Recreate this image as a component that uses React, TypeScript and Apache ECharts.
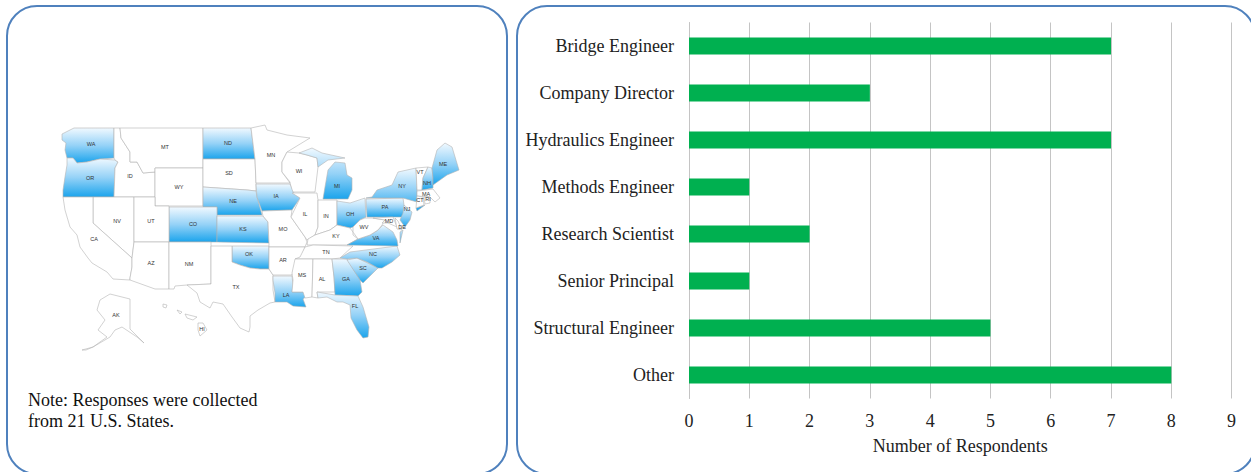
import React, { useEffect, useRef } from "react";
import * as echarts from "echarts";

const categories = ["Bridge Engineer", "Company Director", "Hydraulics Engineer", "Methods Engineer", "Research Scientist", "Senior Principal", "Structural Engineer", "Other"];
const respondents = [7, 3, 7, 1, 2, 1, 5, 8];
const axisTitle = "Number of Respondents";
const noteLines = ["Note: Responses were collected", "from 21 U.S. States."];
const respondingStates = ["WA", "OR", "ND", "NE", "CO", "KS", "IA", "OK", "MI", "OH", "NY", "PA", "NJ", "NH", "ME", "VA", "NC", "SC", "GA", "FL", "LA"];

type Pt = [number, number];
const outlines: Record<string, Pt[][]> = {
  WA: [[[62,134],[74,128],[114,128],[114,158],[100,159],[87,162],[77,163],[73,158],[67,158],[65,150],[66,143],[62,140]]],
  OR: [[[67,158],[73,158],[77,163],[87,162],[100,159],[115,160],[118,162],[115,168],[114,197],[63,197],[63,190],[65,177],[67,165]]],
  ID: [[[114,128],[120,128],[121,138],[130,152],[130,162],[137,162],[143,173],[155,172],[155,197],[114,197],[115,168],[118,162],[115,160],[114,158]]],
  MT: [[[120,128],[203,128],[203,168],[155,168],[155,172],[143,173],[137,162],[130,162],[130,152],[121,138]]],
  WY: [[[155,168],[203,168],[203,206],[155,206]]],
  ND: [[[203,128],[251,128],[255,159],[203,159]]],
  SD: [[[203,159],[255,159],[256,183],[256,191],[247,190],[203,187]]],
  NE: [[[203,187],[247,190],[256,191],[257,197],[262,215],[217,215],[217,207],[203,207]]],
  CO: [[[169,207],[217,207],[217,242],[169,242]]],
  KS: [[[217,216],[263,216],[268,222],[269,243],[217,242]]],
  NV: [[[93,197],[134,197],[134,242],[132,258],[93,223]]],
  CA: [[[63,197],[93,197],[93,223],[132,258],[132,267],[130,278],[130,280],[113,279],[107,272],[92,263],[88,258],[80,247],[77,235],[70,227],[65,210]]],
  UT: [[[134,197],[155,197],[155,206],[169,206],[169,242],[134,242]]],
  AZ: [[[134,242],[169,242],[169,289],[155,289],[130,280],[130,278],[132,267],[132,258]]],
  NM: [[[169,242],[211,242],[211,284],[187,285],[175,286],[174,289],[169,289]]],
  OK: [[[232,246],[269,246],[269,269],[260,269],[250,268],[240,265],[232,262]]],
  TX: [[[211,246],[232,246],[232,262],[240,265],[250,268],[260,269],[269,269],[273,275],[273,290],[275,302],[270,303],[258,310],[250,316],[250,327],[249,332],[240,328],[232,317],[223,304],[213,302],[210,308],[200,302],[197,293],[187,285],[211,284]]],
  AK: [[[100,300],[110,294],[130,299],[130,329],[144,343],[137,337],[122,327],[115,330],[110,337],[93,347],[107,337],[98,330],[105,320],[97,310]],[[82,350],[93,347],[86,350]]],
  HI: [[[198,323],[203,323],[207,330],[200,336],[198,330]],[[185,314],[197,317],[193,320],[187,318]],[[177,310],[182,312],[180,314]],[[163,304],[167,305],[166,308],[163,307]]],
  MN: [[[251,128],[265,125],[267,130],[287,135],[310,138],[287,152],[282,162],[282,172],[290,183],[256,183],[255,159]]],
  WI: [[[282,162],[287,152],[299,153],[307,155],[317,158],[318,167],[315,192],[292,192],[290,182],[282,172]]],
  MI: [[[328,170],[335,162],[345,163],[347,175],[352,178],[352,190],[348,199],[323,199],[325,187]],[[299,153],[312,148],[322,153],[345,158],[328,160],[318,167],[317,158],[307,155]]],
  IA: [[[256,184],[290,184],[293,192],[300,198],[292,210],[262,211],[257,197]]],
  MO: [[[262,211],[292,210],[291,217],[305,237],[307,242],[305,247],[269,247],[269,243],[268,222],[263,216]]],
  AR: [[[269,247],[305,247],[302,255],[298,262],[293,272],[292,275],[273,275],[269,269]]],
  LA: [[[273,276],[292,276],[293,285],[292,292],[312,292],[303,299],[306,307],[293,306],[287,302],[275,302],[275,293],[273,280]]],
  IL: [[[292,193],[317,193],[318,200],[318,227],[315,235],[307,240],[305,237],[291,217],[300,198]]],
  IN: [[[318,200],[337,200],[337,225],[330,230],[315,235],[318,227]]],
  OH: [[[337,201],[350,203],[365,198],[366,217],[360,220],[353,227],[350,228],[337,225]]],
  KY: [[[307,245],[308,239],[315,235],[330,230],[337,225],[350,228],[353,232],[353,235],[358,239],[347,245]]],
  TN: [[[305,247],[313,245],[353,246],[340,258],[332,259],[295,259],[300,257]]],
  MS: [[[295,259],[313,259],[312,297],[305,298],[303,292],[292,292],[293,280],[292,273]]],
  AL: [[[313,259],[332,259],[334,277],[335,292],[317,292],[318,298],[312,297]]],
  GA: [[[332,259],[347,259],[360,280],[362,292],[358,296],[335,295],[334,277]]],
  FL: [[[317,292],[335,295],[358,296],[363,307],[369,327],[368,337],[363,338],[357,330],[351,318],[350,305],[343,302],[337,302],[327,297],[318,298]]],
  SC: [[[347,260],[357,258],[378,268],[363,283],[360,280]]],
  NC: [[[340,258],[350,252],[397,246],[400,255],[392,262],[382,268],[378,268],[367,262],[357,258],[347,259]]],
  VA: [[[347,245],[358,239],[370,235],[378,230],[383,225],[393,232],[397,240],[398,246]],[[400,232],[403,230],[400,243]]],
  WV: [[[353,227],[360,220],[365,218],[372,218],[385,220],[382,225],[378,230],[370,235],[358,239],[353,232]]],
  PA: [[[366,199],[403,198],[404,205],[407,212],[402,217],[367,217]]],
  NY: [[[372,197],[377,190],[392,185],[398,172],[416,168],[417,190],[417,202],[403,198],[366,198]],[[416,208],[425,205],[417,211]]],
  NJ: [[[404,205],[412,212],[410,220],[405,227],[400,220],[403,213]]],
  MD: [[[373,218],[393,217],[397,227],[388,223],[382,223],[385,220]]],
  DE: [[[395,218],[398,221],[402,230],[397,229]]],
  VT: [[[416,168],[428,167],[423,178],[422,190],[417,190]]],
  NH: [[[428,167],[432,168],[433,178],[433,188],[422,190],[423,178]]],
  ME: [[[432,168],[437,150],[445,143],[452,147],[459,170],[447,175],[433,185],[433,178]]],
  MA: [[[417,191],[433,189],[440,198],[435,202],[430,197],[417,196]]],
  CT: [[[417,196],[423,197],[424,205],[416,208]]],
  RI: [[[424,197],[430,197],[430,203],[425,204]]],
};
const labelAnchors: Record<string, Pt> = {
  WA:[91,144],OR:[90,178],ID:[130,176],MT:[165,147],WY:[179,187],ND:[228,143],SD:[229,173],NE:[233,201],CO:[193,224],KS:[243,229],NV:[117,221],UT:[151,221],CA:[94,239],AZ:[151,263],NM:[189,264],OK:[249,254],TX:[236,287],AK:[116,315],HI:[202,329],MN:[271,155],WI:[299,171],MI:[337,186],IA:[276,196],IL:[305,214],IN:[326,216],OH:[350,214],NY:[402,186],PA:[385,207],NJ:[407,209],WV:[364,227],VA:[376,238],KY:[336,236],TN:[326,252],NC:[373,254],SC:[363,268],GA:[346,279],AL:[322,279],MS:[302,275],AR:[283,260],LA:[286,295],FL:[355,306],MO:[283,229],VT:[420,172],NH:[427,183],ME:[443,164],MA:[426,194],CT:[420,200],RI:[428,199],MD:[389,221],DE:[402,227],
};

const serif = "'Liberation Serif', 'Times New Roman', serif";

export default function App() {
  const ref = useRef<HTMLDivElement>(null);
  useEffect(() => {
    document.body.style.margin = "0";
    const geoJson = {
      type: "FeatureCollection",
      features: Object.keys(outlines).map((name) => ({
        type: "Feature",
        properties: { name, cp: labelAnchors[name] },
        geometry: {
          type: "MultiPolygon",
          coordinates: outlines[name].map((ring) => [[...ring, ring[0]]]),
        },
      })),
    };
    echarts.registerMap("usStates", geoJson as any);
    const chart = echarts.init(ref.current!, null, { renderer: "svg" });
    const stateGradient = () =>
      new echarts.graphic.LinearGradient(0, 0, 0, 1, [
        { offset: 0, color: "#f1f9ff" },
        { offset: 0.5, color: "#95d2f7" },
        { offset: 1, color: "#1ba4ec" },
      ]);
    chart.setOption({
      animation: false,
      backgroundColor: "#ffffff",
      grid: { left: 689, top: 22.5, width: 542.6, height: 376, containLabel: false },
      xAxis: {
        type: "value",
        min: 0,
        max: 9,
        interval: 1,
        name: axisTitle,
        nameLocation: "middle",
        nameGap: 38,
        nameTextStyle: { fontFamily: serif, fontSize: 18, color: "#222" },
        axisLine: { show: false },
        axisTick: { show: false },
        axisLabel: { fontFamily: serif, fontSize: 18, color: "#222", margin: 13 },
        splitLine: { show: true, lineStyle: { color: "#c4c4c4", width: 1 } },
      },
      yAxis: {
        type: "category",
        inverse: true,
        data: categories,
        axisLine: { show: true, lineStyle: { color: "#c4c4c4", width: 1 } },
        axisTick: { show: false },
        axisLabel: { fontFamily: serif, fontSize: 18, color: "#222", margin: 15 },
      },
      series: [
        {
          type: "bar",
          data: respondents,
          barWidth: 17,
          itemStyle: { color: "#00b050" },
          silent: true,
        },
        {
          type: "map",
          map: "usStates",
          projection: { project: (p: number[]) => p, unproject: (p: number[]) => p },
          boundingCoords: [[0, 0], [1251, 472]],
          left: 0,
          top: 0,
          width: 1251,
          height: 472,
          roam: false,
          silent: true,
          selectedMode: false,
          itemStyle: { areaColor: "#ffffff", color: "#ffffff", borderColor: "#b4b4b4", borderWidth: 0.6 },
          label: { show: true, fontSize: 5.5, fontFamily: "'Liberation Sans', Arial, sans-serif", color: "#333" },
          data: Object.keys(outlines).map((name) => {
            const on = respondingStates.includes(name);
            return {
              name,
              value: on ? 1 : 0,
              itemStyle: on ? { areaColor: stateGradient(), color: stateGradient() } : { areaColor: "#ffffff", color: "#ffffff" },
            };
          }),
        },
      ],
      graphic: [
        { type: "rect", z: 0, silent: true, shape: { x: 7, y: 6, width: 500, height: 468, r: 30 }, style: { fill: "none", stroke: "#4f81bd", lineWidth: 2 } },
        { type: "rect", z: 0, silent: true, shape: { x: 517, y: 6, width: 738, height: 468, r: 30 }, style: { fill: "none", stroke: "#4f81bd", lineWidth: 2 } },
        { type: "text", silent: true, x: 28, y: 391, style: { text: noteLines[0], font: `18px ${serif}`, fill: "#111", textVerticalAlign: "top" } },
        { type: "text", silent: true, x: 28, y: 412, style: { text: noteLines[1], font: `18px ${serif}`, fill: "#111", textVerticalAlign: "top" } },
      ],
    });
    return () => chart.dispose();
  }, []);
  return <div ref={ref} style={{ width: 1251, height: 472, position: "absolute", left: 0, top: 0 }} />;
}
